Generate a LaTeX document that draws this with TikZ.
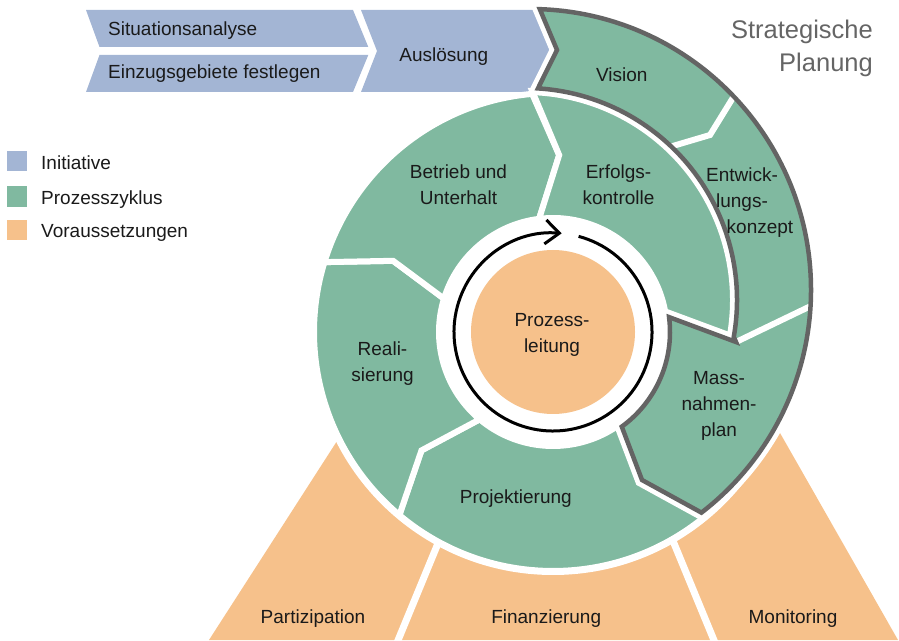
\documentclass[tikz,border=0pt]{standalone}
\usepackage{fontspec}
\setmainfont{Liberation Sans}
\usetikzlibrary{calc,arrows.meta}
\definecolor{ini}{HTML}{A3B5D4}
\definecolor{proz}{HTML}{80B9A0}
\definecolor{vor}{HTML}{F6C18B}
\definecolor{sgray}{HTML}{646464}
\definecolor{txt}{HTML}{1A1A1A}
\definecolor{ttl}{HTML}{656565}
\begin{document}
\begin{tikzpicture}[x=1pt,y=1pt,
  lbl/.style={font=\fontsize{19}{26}\selectfont, text=txt, inner sep=0pt, align=center},
  seg/.style={fill=proz, draw=white, line width=6pt, line join=miter},
  gap/.style={white, line width=7pt},
]
\useasboundingbox (0,0) rectangle (899,640);
\clip (0,0) rectangle (899,640);
\coordinate (C) at (553,308);
\coordinate (C2) at (530,350);
\coordinate (C3) at (525,340);

% Voraussetzungen (orange base)
\fill[vor] (209,0) -- (402,300) -- (727,300) -- (898,0) -- cycle;
\draw[gap] (394,-10) -- (460,150);
\draw[gap] (718,-10) -- (652,150);

% white halo of the ring
\fill[white] (C) circle[radius=243];

% Initiative chevrons
\fill[ini] (86,630) -- (353,630) -- (368.3,593) -- (99.5,593) -- cycle;
\fill[ini] (99.5,585) -- (368.3,585) -- (353,548) -- (86,548) -- cycle;
\fill[ini] (361,630) -- (533,630) -- (550,589) -- (533,548) -- (361,548) -- (377,589) -- cycle;

% inner ring
\path[seg] ($(C2)+(-52.4:281)$) -- ($(C)+(-50.6:239)$) arc[start angle=-50.6, end angle=-130, radius=239]
  -- ($(C)+(-138:177)$) -- ($(C)+(-130:114)$) arc[start angle=-130, end angle=-54, radius=114] -- (642,160) -- cycle;
\path[seg] ($(C)+(230:239)$) arc[start angle=230, end angle=163, radius=239]
  -- ($(C)+(156:175)$) -- ($(C)+(163:114)$) arc[start angle=163, end angle=230, radius=114] -- ($(C)+(222:177)$) -- cycle;
\path[seg] ($(C)+(163:239)$) arc[start angle=163, end angle=95, radius=239]
  -- ($(C)+(88:177)$) -- ($(C)+(97:114)$) arc[start angle=97, end angle=163, radius=114] -- ($(C)+(156:175)$) -- cycle;
\path[seg] ($(C3)+(88:209)$) arc[start angle=88, end angle=-12, radius=209]
  -- ($(C)+(-5:114)$) arc[start angle=-5, end angle=97, radius=114] -- ($(C)+(88:177)$) -- cycle;

% Strategische Planung spiral band
\def\SPth{($(C2)+(88:281)$) arc[start angle=88, end angle=-52.4, radius=281] -- (642,160)
  -- ($(C)+(-54:117)$) arc[start angle=-54, end angle=7.3, radius=117] -- (736,298)
  -- ($(C3)+(-10:212)$) arc[start angle=-10, end angle=86.5, radius=212] -- (557,590) -- cycle}
\draw[white, line width=14pt, line join=miter] \SPth;
\fill[proz] \SPth;
\draw[white, line width=6pt] (734,544) -- (710,505) -- (666,492);
\draw[white, line width=6pt] (736,298) -- (815,336);
\draw[sgray, line width=4.5pt, line join=miter] \SPth;

% Prozessleitung
\fill[vor] (C) circle[radius=82];
\draw[line width=3pt, -{Straight Barb[length=14pt, width=24pt]}]
  ($(C)+(75:99)$) arc[start angle=75, end angle=-275, radius=99];

% labels
\node[lbl, anchor=base west] (sit) at (108,604.3) {Situationsanalyse};
\node[lbl, anchor=base west] (einz) at (108,561) {Einzugsgebiete festlegen};
\node[lbl, anchor=base] (ausl) at (443.8,578.3) {Auslösung};
\node[lbl, anchor=base] (vis) at (621.7,558.3) {Vision};
\node[lbl] (betr) at (458.5,455.3) {Betrieb und\\Unterhalt};
\node[lbl] (erf) at (618.5,455.5) {Erfolgs-\\kontrolle};
\node[lbl] (entw) at (742,437.1) {Entwick-\\lungs-\\\hspace*{36pt}konzept};
\node[lbl] (real) at (382.5,276.2) {Reali-\\sierung};
\node[lbl] (pl) at (552,305.4) {Prozess-\\leitung};
\node[lbl] (mass) at (719,234.5) {Mass-\\nahmen-\\plan};
\node[lbl, anchor=base] (proj) at (515.8,136.7) {Projektierung};
\node[lbl, anchor=base] (part) at (313,16.7) {Partizipation};
\node[lbl, anchor=base] (fin) at (546.2,16.7) {Finanzierung};
\node[lbl, anchor=base] (mon) at (793,16.7) {Monitoring};
\node[font=\fontsize{25.5}{33.4}\selectfont, text=ttl, inner sep=0pt, align=right, anchor=east] (sp) at (873,591.8) {Strategische\\Planung};

% legend
\fill[ini] (7,469.3) rectangle (27,489.3);
\node[lbl, anchor=base west] (li) at (41,470) {Initiative};
\fill[proz] (7,433.3) rectangle (27,454);
\node[lbl, anchor=base west] (lp) at (41,435) {Prozesszyklus};
\fill[vor] (7,400) rectangle (27,420);
\node[lbl, anchor=base west] (lv) at (41,402.7) {Voraussetzungen};
\end{tikzpicture}
\end{document}
